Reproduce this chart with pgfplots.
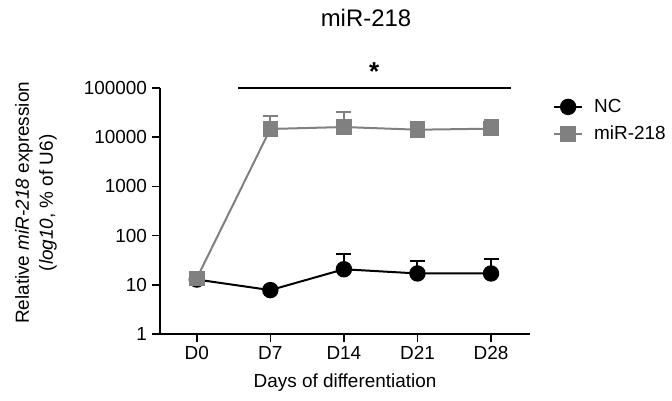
\documentclass[border=0pt]{standalone}
\usepackage{pgfplots}
\pgfplotsset{compat=1.18}
\usepackage{fontspec}
\setmainfont{Liberation Sans}
\definecolor{mgray}{RGB}{128,128,128}
\pgfplotstableread{
x y e
0 12.8 3
1 7.8 0.5
2 20.7 21
3 17 13
4 17 16
}\nc
\pgfplotstableread{
x y e
0 13.5 3.5
1 14700 12300
2 16100 16000
3 14200 6400
4 14900 7700
}\mir
\begin{document}
\begin{tikzpicture}[x=1bp,y=1bp]
\path[use as bounding box] (0,0) rectangle (672,400);
\begin{axis}[
  at={(160bp,66bp)}, anchor=south west,
  scale only axis, width=370bp, height=246bp,
  ymode=log, ymin=1, ymax=100000,
  xmin=-0.5, xmax=4.53,
  xtick={0,1,2,3,4}, xticklabels={D0,D7,D14,D21,D28},
  ytick={1,10,100,1000,10000,100000},
  yticklabels={1,10,100,1000,10000,100000},
  yminorticks=false,
  axis x line*=bottom, axis y line*=left,
  tick align=outside, major tick length=8bp,
  axis line style={line width=1.5bp},
  every tick/.style={line width=1.5bp, black},
  /pgf/number format/assume math mode=true,
  ticklabel style={font=\fontsize{19}{22}\selectfont},
  xticklabel style={yshift=-1bp},
  yticklabel style={xshift=-1.5bp},
  xlabel={Days of differentiation},
  ylabel={Relative \textit{miR-218} expression\\(\textit{log10}, \% of U6)},
  every axis x label/.style={at={(axis description cs:0.5,-0.199)}, anchor=center, font=\fontsize{19}{22}\selectfont},
  every axis y label/.style={at={(axis description cs:-0.335,0.533)}, rotate=90, anchor=center, align=center, font=\fontsize{19}{24}\selectfont},
  clip=false,
  legend style={draw=none, fill=none, at={(axis description cs:1.062,0.962)}, anchor=north west,
    inner sep=0pt, row sep=8bp, column sep=9bp, font=\fontsize{19}{22}\selectfont,
    nodes={inner sep=2bp}},
  legend cell align=left,
  legend image code/.code={\draw[mark repeat=2,mark phase=2,#1] plot coordinates {(0bp,0bp)(14bp,0bp)(28bp,0bp)};},
]
\addplot[black, line width=2bp, mark=*, mark size=7.2bp, mark options={solid, fill=black},
  error bars/.cd, y dir=plus, y explicit,
  error bar style={line width=2bp, black},
  error mark options={rotate=90, mark size=7.5bp, line width=2bp, black}]
  table[x=x, y=y, y error=e] {\nc};
\addlegendentry{NC}
\addplot[mgray, line width=2bp, mark=square*, mark size=6.8bp, mark options={solid, fill=mgray},
  error bars/.cd, y dir=plus, y explicit,
  error bar style={line width=2bp, mgray},
  error mark options={rotate=90, mark size=7.5bp, line width=2bp, mgray}]
  table[x=x, y=y, y error=e] {\mir};
\addlegendentry{miR-218}
\draw[line width=2.5bp] (axis cs:0.558,100000) -- (axis cs:4.27,100000);
\node[font=\bfseries\fontsize{26}{26}\selectfont] at (axis cs:2.41,215000) {*};
\end{axis}
\node[font=\fontsize{24}{28}\selectfont] at (366,382) {miR-218};
\end{tikzpicture}
\end{document}
